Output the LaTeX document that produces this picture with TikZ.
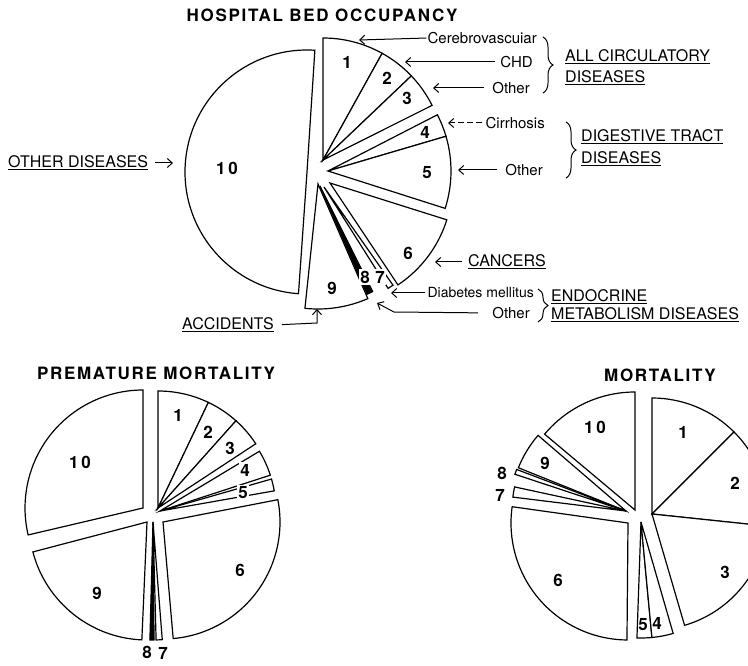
\documentclass[tikz,border=0pt]{standalone}
\usepackage{fontspec}
\setmainfont{TeX Gyre Heros}
\newfontfamily\titlefont[LetterSpace=10]{TeX Gyre Heros}
\usetikzlibrary{arrows.meta,decorations.pathreplacing}
\newcommand{\wdg}[6][]{\draw[pie,#1] (#2,#3) -- ++({-(#5)}:#4) arc[start angle={-(#5)}, end angle={-(#6)}, radius=#4] -- cycle;}
\begin{document}
\begin{tikzpicture}[x=1pt,y=-1pt,
  pie/.style={draw=black,line width=1.2pt,line join=miter,fill=white},
  num/.style={font=\fontsize{17}{17}\selectfont\bfseries,inner sep=1pt},
  numw/.style={num,fill=white,inner sep=1.5pt},
  lab/.style={font=\fontsize{15}{15}\selectfont,inner sep=0pt},
  caplab/.style={font=\fontsize{16}{16}\selectfont,inner sep=0pt,anchor=west},
  ttl/.style={font=\titlefont\bfseries\fontsize{17}{20}\selectfont},
  arr/.style={-{Straight Barb[length=5pt,width=9pt]},line width=1pt},
  brc/.style={decorate,decoration={brace,amplitude=10pt},line width=1pt}
]
\useasboundingbox (0,0) rectangle (748,666);
\clip (0,0) rectangle (748,666);
\fill[white] (0,0) rectangle (748,666);

% ---------------- HOSPITAL BED OCCUPANCY ----------------
\node[ttl] (ttlH) at (322,15) {HOSPITAL BED OCCUPANCY};
\wdg{307}{172}{122}{86.3}{266}
\wdg{323}{160}{122}{90}{61}
\wdg{323}{160}{122}{61}{43.6}
\wdg{323}{160}{122}{43.6}{26.6}
\wdg{328}{171}{123}{27.2}{16.4}
\wdg{328}{171}{123}{16.4}{-17.7}
\wdg{330}{183}{122.5}{-17.5}{-56.3}
\wdg{318}{184}{125}{264}{293.5}
\wdg[fill=black]{320}{186}{118}{-66.5}{-63.5}
\wdg{324}{187}{120}{-57.7}{-54.9}

\node[num] (h1) at (347,62) {1};
\node[num] (h2) at (387,78) {2};
\node[num] (h3) at (407,98) {3};
\node[num] (h4) at (425,132) {4};
\node[num] (h5) at (427,173) {5};
\node[num] (h6) at (408,253) {6};
\node[numw] (h7) at (380,277) {7};
\node[numw] (h8) at (365,277) {8};
\node[num] (h9) at (332,288) {9};
\node[num] (h10) at (227,168) {1\hspace{3pt}0};

% labels and arrows
\node[lab,anchor=east] (cereb) at (537,38) {Cerebrovascuiar};
\coordinate (tcereb) at (359,40);
\draw[arr,shorten <=1pt] (cereb.west) -- (tcereb);
\node[lab,anchor=east] (chd) at (533,62) {CHD};
\coordinate (tchd) at (405,62);
\draw[arr,shorten <=5pt] (chd.west) -- (tchd);
\node[lab,anchor=east] (othC) at (530,88) {Other};
\coordinate (tothC) at (433,88);
\draw[arr,shorten <=8pt] (othC.west) -- (tothC);
\draw[brc] (543,37) -- (543,93);
\node[caplab] (allc) at (565,57) {\underline{ALL CIRCULATORY}};
\node[caplab] (dis1) at (565,78) {\underline{DISEASES}};

\node[lab,anchor=east] (cirr) at (545,123) {Cirrhosis};
\coordinate (tcirr) at (448,123);
\draw[arr,dash pattern=on 6pt off 3pt,shorten <=3pt] (cirr.west) -- (tcirr);
\node[lab,anchor=east] (othD) at (543,170) {Other};
\coordinate (tothD) at (458,170);
\draw[arr,shorten <=8pt] (othD.west) -- (tothD);
\draw[brc] (566,122) -- (566,178);
\node[caplab] (dig) at (581,137) {\underline{DIGESTIVE TRACT}};
\node[caplab] (dis2) at (581,159) {\underline{DISEASES}};

\node[caplab] (canc) at (468,262) {\underline{CANCERS}};
\coordinate (tcanc) at (435,262);
\draw[arr,shorten <=6pt] (canc.west) -- (tcanc);

\node[lab,anchor=east,font=\fontsize{14}{14}\selectfont] (diab) at (534,293) {Diabetes mellitus};
\coordinate (tdiab) at (391,293);
\draw[arr,shorten <=2pt] (diab.west) -- (tdiab);
\node[lab,anchor=east] (othE) at (530,313) {Other};
\coordinate (bothE) at (394,312);
\coordinate (tothE) at (377,303);
\draw[arr,shorten <=14pt] (othE.west) -- (bothE) -- (tothE);
\draw[brc] (538,289) -- (538,322);
\node[caplab] (endo) at (551,297) {\underline{ENDOCRINE}};
\node[caplab] (meta) at (551,315) {\underline{METABOLISM DISEASES}};

\node[caplab] (acc) at (182,325) {\underline{ACCIDENTS}};
\coordinate (bacc) at (317,323);
\coordinate (tacc) at (317,309);
\draw[arr,shorten <=8pt] (acc.east) -- (bacc) -- (tacc);

\node[caplab] (othdis) at (8,163) {\underline{OTHER DISEASES}};
\coordinate (toth) at (173,163);
\draw[arr,shorten <=7pt] (othdis.east) -- (toth);

% ---------------- PREMATURE MORTALITY ----------------
\node[ttl] (ttlP) at (156,373) {PREMATURE MORTALITY};
\wdg{143}{508}{118}{90}{193.2}
\wdg{147}{522}{118}{194.7}{267.5}
\wdg[fill=black]{153}{522}{118}{268.5}{270.5}
\wdg{153}{522}{118}{271.5}{274.5}
\wdg{163}{522}{117}{11}{-85}
\wdg{158}{508}{117}{90}{64.5}
\wdg{158}{508}{117}{64.5}{48.2}
\wdg{158}{508}{117}{48.2}{33.3}
\wdg{160}{511}{116}{31}{18}
\wdg{160}{511}{116}{16}{10}

\node[num] (p1) at (178,415) {1};
\node[numw] (p2) at (208,432) {2};
\node[numw] (p3) at (230,448) {3};
\node[numw] (p4) at (245,470) {4};
\node[numw] (p5) at (243,493) {5};
\node[num] (p6) at (240,570) {6};
\node[num] (p7) at (163,653) {7};
\node[num] (p8) at (147,652) {8};
\node[num] (p9) at (97,593) {9};
\node[num] (p10) at (80,462) {1\hspace{3pt}0};

% ---------------- MORTALITY ----------------
\node[ttl] (ttlM) at (660,375) {MORTALITY};
\wdg{635}{510}{118}{90}{140}
\wdg{626}{511}{116}{139.3}{158.1}
\wdg{626}{511}{117}{159.2}{161.7}
\wdg{626}{511}{114}{167.8}{173}
\wdg{628}{523}{117}{172}{269.5}
\wdg{641}{522}{116}{-92}{-84.6}
\wdg{641}{522}{116}{-84.6}{-73.9}
\wdg{652}{514}{116}{90}{45}
\wdg{652}{514}{116}{45}{-6}
\wdg{652}{514}{116}{-6}{-73.7}

\node[num] (m1) at (683,432) {1};
\node[num] (m2) at (735,483) {2};
\node[num] (m3) at (725,572) {3};
\node[num] (m4) at (657,623) {4};
\node[num] (m5) at (643,625) {5};
\node[num] (m6) at (558,580) {6};
\node[num] (m7) at (500,495) {7};
\node[num] (m8) at (502,473) {8};
\node[num] (m9) at (545,463) {9};
\node[num] (m10) at (595,427) {1\hspace{3pt}0};
\end{tikzpicture}
\end{document}
